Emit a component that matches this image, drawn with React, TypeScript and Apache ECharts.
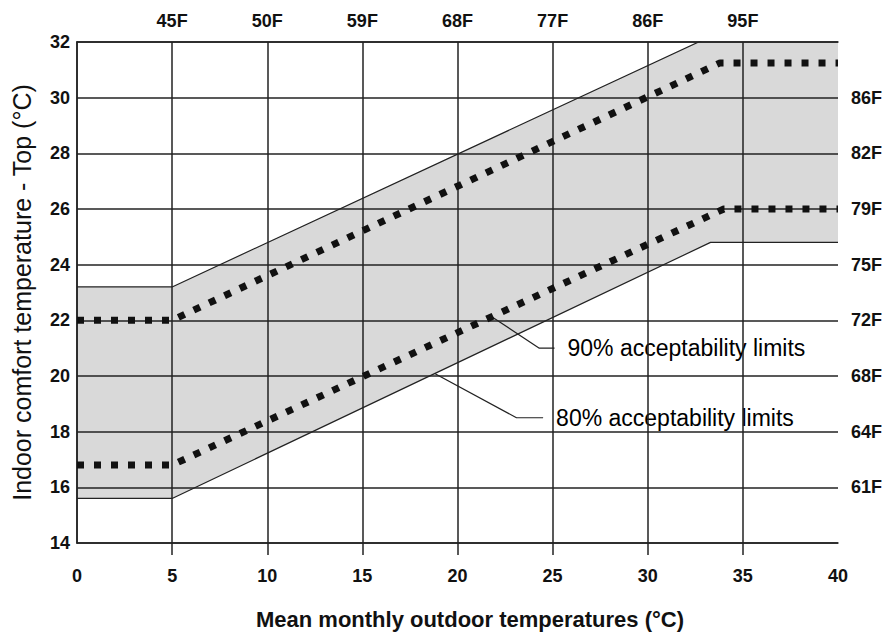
import React, { useEffect, useRef } from 'react';
import * as echarts from 'echarts';

// Acceptability band boundaries: [outdoor °C, indoor °C]
const upper80 = [[0, 23.2], [5, 23.2], [33.3, 32.2], [40, 32.2]];
const lower80 = [[0, 15.6], [5, 15.6], [33.3, 24.8], [40, 24.8]];
const upper90 = [[0, 22.0], [5, 22.0], [33.8, 31.25], [40, 31.25]];
const lower90 = [[0, 16.8], [5, 16.8], [34, 26.0], [40, 26.0]];

// Annotation leader lines
const leader90 = [[21.8, 22.13], [24.3, 21.0], [25.1, 21.0]];
const leader80 = [[18.8, 20.09], [23.1, 18.5], [24.5, 18.5]];
const label90 = '90% acceptability limits';
const label80 = '80% acceptability limits';

// Tick labels
const topTickValues = [5, 10, 15, 20, 25, 30, 35];
const topTickLabels = ['45F', '50F', '59F', '68F', '77F', '86F', '95F'];
const rightTickValues = [30, 28, 26, 24, 22, 20, 18, 16];
const rightTickLabels = ['86F', '82F', '79F', '75F', '72F', '68F', '64F', '61F'];

const FONT = '"Liberation Sans", Arial, Helvetica, sans-serif';
const INK = '#222';

export default function App() {
  const ref = useRef<HTMLDivElement>(null);

  useEffect(() => {
    if (!ref.current) return;
    const chart = echarts.init(ref.current, null, { renderer: 'svg' });

    const thin = { color: INK, width: 1.2 };
    const dotted = { color: '#111', width: 7, type: [7, 10] as any, cap: 'butt' as const };
    const tickFont = { fontSize: 18, fontWeight: 'bold' as const, color: '#111', fontFamily: FONT };

    chart.setOption({
      animation: false,
      backgroundColor: '#fff',
      textStyle: { fontFamily: FONT },
      grid: { left: 77, right: 49, top: 42, bottom: 90 },
      xAxis: [
        {
          type: 'value',
          min: 0,
          max: 40,
          interval: 5,
          position: 'bottom',
          name: 'Mean monthly outdoor temperatures (°C)',
          nameLocation: 'middle',
          nameGap: 65,
          nameTextStyle: {
            fontSize: 22,
            fontWeight: 'bold',
            color: '#111',
            fontFamily: FONT,
            padding: [0, 0, 0, 25],
          },
          axisLine: { show: true, lineStyle: { color: INK, width: 1.5 } },
          axisTick: {
            show: true,
            length: 12,
            inside: false,
            customValues: topTickValues,
            lineStyle: { color: INK, width: 1.5 },
          },
          axisLabel: { ...tickFont, margin: 24 },
          splitLine: { show: true, lineStyle: { color: INK, width: 1.5 } },
          z: 3,
        },
        {
          type: 'value',
          min: 0,
          max: 40,
          interval: 5,
          position: 'top',
          axisLine: { show: true, lineStyle: { color: INK, width: 1.5 } },
          axisTick: { show: false },
          splitLine: { show: false },
          axisLabel: {
            ...tickFont,
            margin: 12,
            formatter: (v: number) => {
              const i = topTickValues.indexOf(v);
              return i >= 0 ? topTickLabels[i] : '';
            },
          },
          z: 3,
        },
      ],
      yAxis: [
        {
          type: 'value',
          min: 14,
          max: 32,
          interval: 2,
          position: 'left',
          name: 'Indoor comfort temperature - Top (°C)',
          nameLocation: 'middle',
          nameGap: 43,
          nameRotate: 90,
          nameTextStyle: { fontSize: 25, color: '#111', fontFamily: FONT },
          axisLine: { show: true, lineStyle: { color: INK, width: 1.5 } },
          axisTick: { show: false },
          axisLabel: { ...tickFont, margin: 7 },
          splitLine: { show: true, lineStyle: { color: INK, width: 1.5 } },
          z: 3,
        },
        {
          type: 'value',
          min: 14,
          max: 32,
          interval: 2,
          position: 'right',
          axisLine: { show: true, lineStyle: { color: INK, width: 1.5 } },
          axisTick: { show: false },
          splitLine: { show: false },
          axisLabel: {
            ...tickFont,
            margin: 13,
            formatter: (v: number) => {
              const i = rightTickValues.indexOf(v);
              return i >= 0 ? rightTickLabels[i] : '';
            },
          },
          z: 3,
        },
      ],
      series: [
        {
          type: 'custom',
          name: 'band80',
          xAxisIndex: 0,
          yAxisIndex: 0,
          silent: true,
          z: 1,
          data: [[0, 14]],
          renderItem: (params: any, api: any) => {
            const pts = [
              ...upper80.map((p) => api.coord(p)),
              ...lower80.slice().reverse().map((p) => api.coord(p)),
            ];
            const cs = params.coordSys;
            return {
              type: 'polygon',
              shape: { points: pts },
              style: { fill: '#d9d9d9', stroke: 'none' },
              clipPath: {
                type: 'rect',
                shape: { x: cs.x, y: cs.y, width: cs.width, height: cs.height },
              },
            };
          },
        },
        { type: 'line', name: 'upper80', data: upper80, symbol: 'none', lineStyle: thin, silent: true, z: 2 },
        { type: 'line', name: 'lower80', data: lower80, symbol: 'none', lineStyle: thin, silent: true, z: 2 },
        { type: 'line', name: 'upper90', data: upper90, symbol: 'none', lineStyle: dotted, silent: true, z: 4 },
        { type: 'line', name: 'lower90', data: lower90, symbol: 'none', lineStyle: dotted, silent: true, z: 4 },
        { type: 'line', name: 'leader90', data: leader90, symbol: 'none', lineStyle: thin, silent: true, z: 2 },
        { type: 'line', name: 'leader80', data: leader80, symbol: 'none', lineStyle: thin, silent: true, z: 2 },
        {
          type: 'scatter',
          name: 'labels',
          symbolSize: 0,
          silent: true,
          z: 2,
          data: [
            { value: leader90[leader90.length - 1], name: label90 },
            { value: leader80[leader80.length - 1], name: label80 },
          ],
          label: {
            show: true,
            position: 'right',
            distance: 13,
            formatter: (p: any) => p.name,
            fontSize: 23,
            color: '#000',
            opacity: 1,
            textBorderWidth: 0,
            fontFamily: FONT,
          },
        },
      ],
    });

    return () => chart.dispose();
  }, []);

  return (
    <div
      ref={ref}
      style={{ position: 'fixed', left: 0, top: 0, width: 887, height: 635, background: '#fff' }}
    />
  );
}
